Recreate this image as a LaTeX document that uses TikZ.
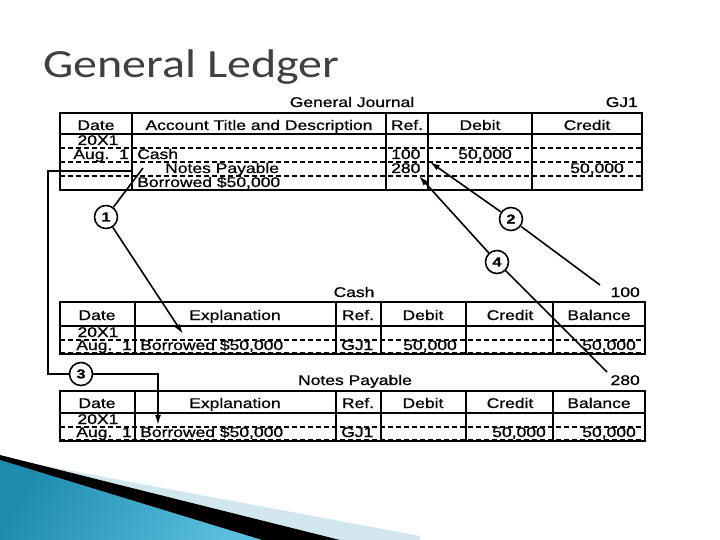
\documentclass[tikz,border=0pt]{standalone}
\usepackage{fontspec}
\setmainfont{Liberation Sans}[FakeStretch=1.25,FakeBold=0.8]
\newfontfamily\titlefont{Carlito}[FakeStretch=1.2]
\usetikzlibrary{arrows.meta}
\definecolor{ttl}{RGB}{64,64,64}
\definecolor{bandblue}{RGB}{30,140,175}
\definecolor{bandlight}{RGB}{90,190,220}
\definecolor{paleblue}{RGB}{210,230,238}
\begin{document}
\begin{tikzpicture}[x=1pt,y=-1pt,
  tx/.style={inner sep=0pt,font=\fontsize{14}{15}\selectfont,anchor=base},
  txl/.style={tx,anchor=base west},
  txr/.style={tx,anchor=base east},
  grid/.style={line width=1.8pt},
  dsh/.style={line width=1.1pt,dash pattern=on 5pt off 3pt},
  circ/.style={circle,draw,line width=1.6pt,minimum size=23pt,inner sep=0pt,font=\fontsize{13}{13}\selectfont\bfseries},
  conn/.style={line width=1.6pt},
  arr/.style={conn,-{Latex[length=10pt,width=6pt]}}]
\useasboundingbox (0,0) rectangle (720,540);
% band
\fill[paleblue] (40,465) -- (420,536) -- (420,540) -- (300,540) -- cycle;
\fill[black] (0,455) -- (340,540) -- (255,540) -- (0,462) -- cycle;
\shade[left color=bandblue,right color=bandlight,shading angle=60] (0,460) -- (262,540) -- (0,540) -- cycle;
\node[anchor=base west,inner sep=0pt,text=ttl,font=\titlefont\fontsize{40}{40}\selectfont] (title) at (43,78) {General Ledger};
% General Journal
\node[tx] (gjt) at (352,107) {General Journal};
\node[txr] (gj1) at (638,107) {GJ1};
\draw[grid] (60,113) rectangle (642,190);
\draw[grid] (60,134) -- (642,134);
\foreach \x in {132,386,428,532} \draw[grid] (\x,113) -- (\x,190);
\foreach \y in {148,162,176} \draw[dsh] (60,\y) -- (642,\y);
\draw[dsh] (60,190) -- (642,190);
\node[tx] at (96,130) {Date};
\node[tx] at (259,130) {Account Title and Description};
\node[tx] at (407,130) {Ref.};
\node[tx] at (480,130) {Debit};
\node[tx] at (587,130) {Credit};
\node[tx] at (98,145) {20X1};
\node[txr] at (129,159) {Aug.\ \ 1};
\node[txl] (cash) at (137,159) {Cash};
\node[txl] (np) at (165,173) {Notes Payable};
\node[txl] at (137,187) {Borrowed \$50,000};
\node[txl] (r100) at (391,159) {100};
\node[txl] (r280) at (391,173) {280};
\node[txr] at (512,159) {50,000};
\node[txr] at (624,173) {50,000};
% Cash ledger
\node[tx] (cashT) at (354,297) {Cash};
\node[txr] (c100) at (640,297) {100};
\draw[grid] (60,302) rectangle (645,354);
\draw[grid] (60,326) -- (645,326);
\foreach \x in {135,336,381,466,553} \draw[grid] (\x,302) -- (\x,354);
\draw[dsh] (60,340) -- (645,340);
\draw[dsh] (60,353) -- (645,353);
\node[tx] at (97,320) {Date};
\node[tx] at (235,320) {Explanation};
\node[tx] at (358,320) {Ref.};
\node[tx] at (423,320) {Debit};
\node[tx] at (510,320) {Credit};
\node[tx] at (599,320) {Balance};
\node[tx] at (98,337) {20X1};
\node[txr] at (132,350) {Aug.\ \ 1};
\node[txl] (cb) at (140,350) {Borrowed \$50,000};
\node[txl] at (341,350) {GJ1};
\node[txr] at (457,350) {50,000};
\node[txr] at (636,350) {50,000};
% Notes Payable ledger
\node[tx] (npT) at (355,385) {Notes Payable};
\node[txr] (c280) at (640,385) {280};
\draw[grid] (60,391) rectangle (645,441);
\draw[grid] (60,413) -- (645,413);
\foreach \x in {135,336,381,466,553} \draw[grid] (\x,391) -- (\x,441);
\draw[dsh] (60,427) -- (645,427);
\draw[dsh] (60,440) -- (645,440);
\node[tx] at (97,408) {Date};
\node[tx] at (235,408) {Explanation};
\node[tx] at (358,408) {Ref.};
\node[tx] at (423,408) {Debit};
\node[tx] at (510,408) {Credit};
\node[tx] at (599,408) {Balance};
\node[tx] at (98,424) {20X1};
\node[txr] at (132,437) {Aug.\ \ 1};
\node[txl] (nb) at (140,437) {Borrowed \$50,000};
\node[txl] at (341,437) {GJ1};
\node[txr] at (546,437) {50,000};
\node[txr] at (636,437) {50,000};
% circles
\node[circ] (c1) at (106,217) {1};
\node[circ] (c2) at (511,219) {2};
\node[circ] (c4) at (497,262) {4};
\node[circ] (c3) at (81,374) {3};
% connectors
\coordinate (p1) at (143,168);
\coordinate (a1) at (183,334);
\coordinate (s2) at (600,285);
\coordinate (a2) at (430,162);
\coordinate (s4) at (607,372);
\coordinate (a4) at (419,176);
\coordinate (l1) at (132,171);
\coordinate (a3) at (158,425);
\draw[conn] (c1) -- (p1);
\draw[arr] (c1) -- (a1);
\draw[conn] (s2) -- (c2);
\draw[arr] (c2) -- (a2);
\draw[conn] (s4) -- (c4);
\draw[arr] (c4) -- (a4);
\draw[conn] (l1) -- (48,171) |- (c3);
\draw[arr] (c3) -| (a3);
\end{tikzpicture}
\end{document}
